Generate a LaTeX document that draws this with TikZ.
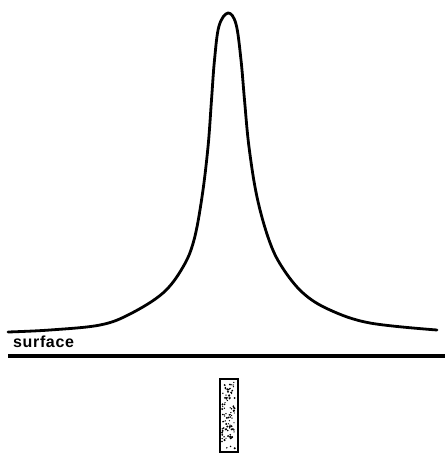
\documentclass[tikz,border=0pt]{standalone}
\usepackage{fontspec}
\setmainfont{Liberation Sans}
\begin{document}
\begin{tikzpicture}[x=1pt,y=-1pt,
  curve/.style={line width=2.8pt,line cap=round,line join=round},
  surf/.style={line width=4.8pt},
  probe/.style={line width=2pt,fill=white},
  lbl/.style={font=\fontsize{16}{20}\selectfont\bfseries\addfontfeatures{LetterSpace=4},inner sep=0pt,anchor=base west}]
\useasboundingbox (0,0) rectangle (445,453);
% peak curve
\draw[curve] plot[smooth,tension=0.6] coordinates {
 (8,332) (50,330) (100,325) (130,314) (163,293) (183,267) (194,240)
 (202,197) (208,147) (211.5,100) (214.5,60) (219,26) (228,13)
 (236,24) (241,60) (244.5,100) (249,147) (257,197) (269,240) (282,267)
 (303,293) (330,310) (370,323) (437,330)};
% surface
\draw[surf] (8,356) -- (445,356);
\node[lbl] (surface) at (13,347) {surface};
% probe
\draw[probe] (219.5,379) rectangle (237.5,452);
\pgfmathsetseed{11}
\foreach \i in {1,...,95}{
  \pgfmathsetmacro{\px}{222+13*rnd}
  \pgfmathsetmacro{\py}{382+68*rnd}
  \pgfmathsetmacro{\pr}{0.6+0.6*rnd}
  \fill (\px,\py) circle (\pr);
}
\end{tikzpicture}
\end{document}
